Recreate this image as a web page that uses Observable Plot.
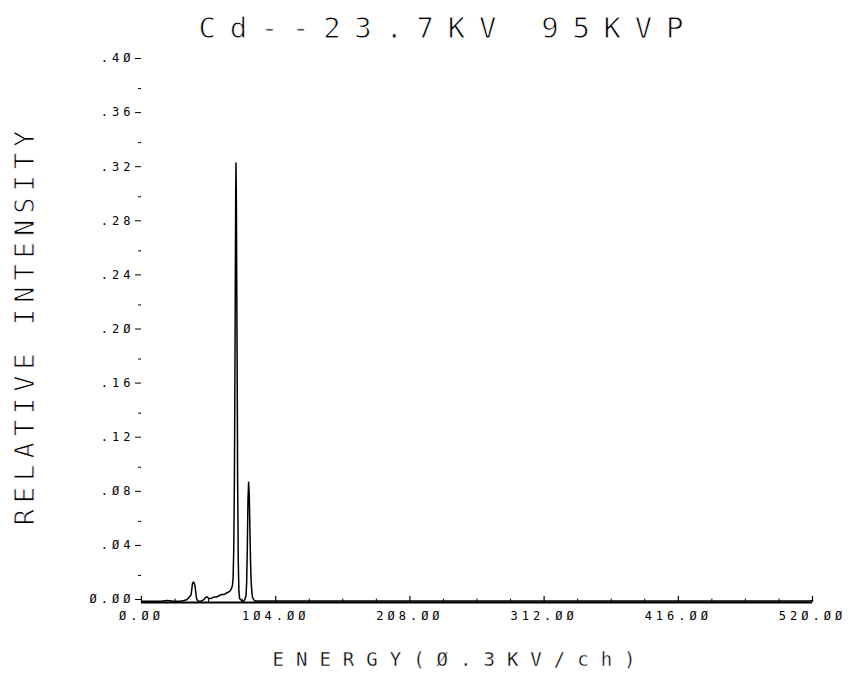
<!DOCTYPE html>
<html>
<head>
<meta charset="utf-8">
<script src="https://cdn.jsdelivr.net/npm/d3@7"></script>
<script src="https://cdn.jsdelivr.net/npm/@observablehq/plot@0.6"></script>
<style>
  html, body { margin: 0; padding: 0; background: #fff; }
  #chart svg { display: block; }
</style>
</head>
<body>
<div id="chart"></div>
<script>
// Spectrum: channel number (0.3 kV per channel) vs relative intensity
const channels = [0, 5, 10, 15, 20, 25, 30, 33, 35, 36, 37, 38, 38.5, 39, 39.5, 40, 40.5, 41, 41.5, 42, 42.5, 43, 44, 46, 48, 49, 50, 51, 52, 54, 56, 58, 60, 62, 64, 66, 68, 69, 70, 70.5, 71, 71.5, 72, 72.5, 73, 73.2, 73.5, 74, 74.5, 75, 75.5, 76, 77, 78, 79, 80, 81, 81.5, 82, 82.5, 83, 83.5, 84, 84.5, 85, 85.5, 86, 87, 88, 95, 100, 110, 125, 140, 160, 180, 200, 220, 240, 260, 280, 300, 320, 340, 360, 380, 400, 420, 440, 460, 480, 500, 510, 518, 520];
const intensity = [0.001, 0.001, 0.001, 0.001, 0.0015, 0.001, 0.001, 0.0015, 0.002, 0.003, 0.004, 0.005, 0.006, 0.010, 0.014, 0.015, 0.015, 0.014, 0.012, 0.008, 0.004, 0.002, 0.001, 0.001, 0.002, 0.003, 0.004, 0.004, 0.003, 0.003, 0.004, 0.004, 0.005, 0.006, 0.006, 0.007, 0.008, 0.009, 0.011, 0.013, 0.018, 0.040, 0.090, 0.190, 0.300, 0.325, 0.300, 0.200, 0.090, 0.030, 0.008, 0.003, 0.002, 0.001, 0.001, 0.002, 0.005, 0.015, 0.040, 0.075, 0.089, 0.080, 0.055, 0.030, 0.015, 0.008, 0.004, 0.002, 0.0012, 0.0012, 0.0012, 0.0011, 0.0012, 0.0011, 0.0012, 0.0011, 0.0012, 0.0011, 0.0012, 0.0011, 0.0012, 0.0011, 0.0012, 0.0011, 0.0012, 0.0011, 0.0012, 0.0011, 0.0012, 0.0011, 0.0012, 0.0011, 0.0012, 0.0012, 0.0015];

const xTicks = [0, 104, 208, 312, 416, 520];
const xTickLabels = ["Ø.ØØ", "1Ø4.ØØ", "2Ø8.ØØ", "312.ØØ", "416.ØØ", "52Ø.ØØ"];
const xMinorTicks = [26, 52, 78, 130, 156, 182, 234, 260, 286, 338, 364, 390, 442, 468, 494];
const yTicks = [0, 0.04, 0.08, 0.12, 0.16, 0.20, 0.24, 0.28, 0.32, 0.36, 0.40];
const yTickLabels = ["Ø.ØØ", ".Ø4", ".Ø8", ".12", ".16", ".2Ø", ".24", ".28", ".32", ".36", ".4Ø"];
const yMinorTicks = [0.02, 0.06, 0.10, 0.14, 0.18, 0.22, 0.26, 0.30, 0.34, 0.38];

const titleText = "Cd--23.7KV 95KVP";
const xLabel = "ENERGY(Ø.3KV/ch)";
const yLabel = "RELATIVE INTENSITY";

const data = channels.map((c, i) => ({ch: c, v: intensity[i]}));
const mono = "'DejaVu Sans Mono', monospace";
// thin "pen plotter" look: a white outline drawn over the glyph fill
const thin = (w) => ({stroke: "#fff", strokeWidth: w, paintOrder: "normal"});

const chart = Plot.plot({
  width: 851,
  height: 677,
  marginLeft: 141,
  marginRight: 39,
  marginTop: 61,
  marginBottom: 75,
  style: {fontFamily: mono, fontSize: "12px", color: "#000", background: "#fff"},
  x: {domain: [0, 520], axis: null},
  y: {domain: [0, 0.40], axis: null},
  marks: [
    Plot.axisX({ticks: xTicks, tickFormat: (d) => xTickLabels[xTicks.indexOf(d)], tickSize: 0, tickPadding: 9,
      fontSize: 12, label: null}),
    Plot.axisY({ticks: yTicks, tickFormat: (d, i) => yTickLabels[i], tickSize: 6, tickPadding: 1, dy: -3,
      fontSize: 12, label: null}),
    Plot.axisY({ticks: yMinorTicks, tickFormat: () => "", tickSize: 3, label: null}),
    Plot.ruleX(xTicks, {x: (d) => d, y1: 0, y2: 0.0045, stroke: "#000", strokeWidth: 1.2}),
    Plot.ruleX(xMinorTicks, {x: (d) => d, y1: 0, y2: 0.0025, stroke: "#000", strokeWidth: 1}),
    Plot.ruleY([0], {stroke: "#000", strokeWidth: 2}),
    Plot.line(data, {x: "ch", y: "v", stroke: "#000", strokeWidth: 1.5, curve: "linear"}),
    Plot.text([titleText], {frameAnchor: "top-left", textAnchor: "start", lineAnchor: "middle", dx: 57, dy: -33,
      fontSize: 29, fill: "#000", ...thin(0.9)}),
    Plot.text([xLabel], {frameAnchor: "bottom-left", textAnchor: "start", lineAnchor: "middle", dx: 131, dy: 57,
      fontSize: 19, fill: "#000", ...thin(0.35)}),
    Plot.text([yLabel], {frameAnchor: "left", textAnchor: "middle", lineAnchor: "middle", dx: -116, dy: -7, rotate: -90,
      fontSize: 27, fill: "#000", ...thin(0.9)})
  ]
});

const spacing = new Map([[titleText, "13.7px"], [xLabel, "12px"], [yLabel, "6px"]]);
xTickLabels.forEach((t) => spacing.set(t, "4px"));
yTickLabels.forEach((t) => spacing.set(t, "4px"));
d3.select(chart).selectAll("text").each(function () {
  const s = spacing.get(this.textContent);
  if (s) this.setAttribute("letter-spacing", s);
});
document.getElementById("chart").append(chart);
</script>
</body>
</html>
